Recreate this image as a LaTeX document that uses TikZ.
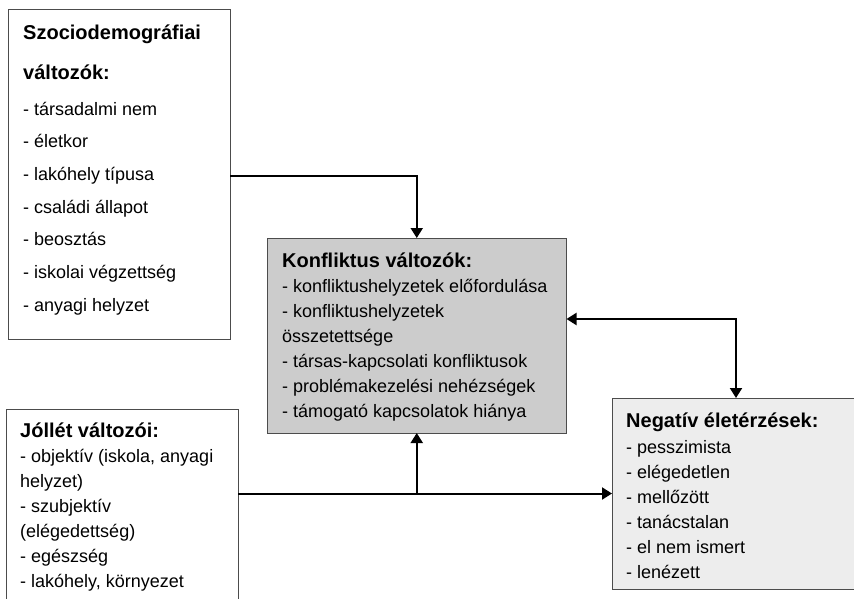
\documentclass[tikz,border=0pt]{standalone}
\usepackage{fontspec}
\setmainfont{Liberation Sans}
\usetikzlibrary{arrows.meta}
\tikzset{
  box/.style={draw=black!70, line width=1pt, inner sep=0pt, outer sep=0pt},
  hd/.style={anchor=base west, inner sep=0pt, font=\fontsize{20pt}{24pt}\selectfont\bfseries},
  ln/.style={anchor=base west, inner sep=0pt, font=\fontsize{18pt}{22pt}\selectfont},
  conn/.style={line width=2pt, -{Triangle[width=12pt,length=10pt]}},
  dconn/.style={line width=2pt, {Triangle[width=12pt,length=10pt]}-{Triangle[width=12pt,length=10pt]}},
}
\begin{document}
\begin{tikzpicture}[x=1pt,y=-1pt]
\useasboundingbox (0,0) rectangle (854,598);
\clip (0,0) rectangle (854,598);
% boxes
\node[box, minimum width=221.5pt, minimum height=330.5pt] (soc) at (119.25,174.25) {};
\node[box, fill=black!20, minimum width=299.5pt, minimum height=195pt] (konf) at (416.75,335.5) {};
\node[box, minimum width=232pt, minimum height=211pt] (jol) at (122,514.5) {};
\node[box, fill=black!7, minimum width=248pt, minimum height=191pt] (neg) at (736,493.5) {};
% texts: Szociodemografiai
\node[hd] (sh1) at (23,39) {Szociodemográfiai};
\node[hd] (sh2) at (23,79) {változók:};
\foreach \t [count=\i] in {{- társadalmi nem},{- életkor},{- lakóhely típusa},{- családi állapot},{- beosztás},{- iskolai végzettség},{- anyagi helyzet}}
  \node[ln] (s\i) at ({23},{115+32.7*(\i-1)}) {\t};
% Konfliktus
\node[hd] (kh) at (282,267) {Konfliktus változók:};
\foreach \t [count=\i] in {{- konfliktushelyzetek előfordulása},{- konfliktushelyzetek},{összetettsége},{- társas-kapcsolati konfliktusok},{- problémakezelési nehézségek},{- támogató kapcsolatok hiánya}}
  \node[ln] (k\i) at ({282},{292+25*(\i-1)}) {\t};
% Jollet
\node[hd] (jh) at (20,437) {Jóllét változói:};
\foreach \t [count=\i] in {{- objektív (iskola, anyagi},{helyzet)},{- szubjektív},{(elégedettség)},{- egészség},{- lakóhely, környezet}}
  \node[ln] (j\i) at ({20},{462+25*(\i-1)}) {\t};
% Negativ
\node[hd] (nh) at (626,427) {Negatív életérzések:};
\foreach \t [count=\i] in {{- pesszimista},{- elégedetlen},{- mellőzött},{- tanácstalan},{- el nem ismert},{- lenézett}}
  \node[ln] (n\i) at ({626},{453+25*(\i-1)}) {\t};
% connectors
\draw[conn] ([yshift=-1.75pt]soc.east) -| (konf.north);
\draw[dconn] ([yshift=16.5pt]konf.east) -| (neg.north);
\draw[conn] (jol.east |- neg.west) -- (neg.west);
\draw[conn] (konf.south |- neg.west) -- (konf.south);
\end{tikzpicture}
\end{document}
